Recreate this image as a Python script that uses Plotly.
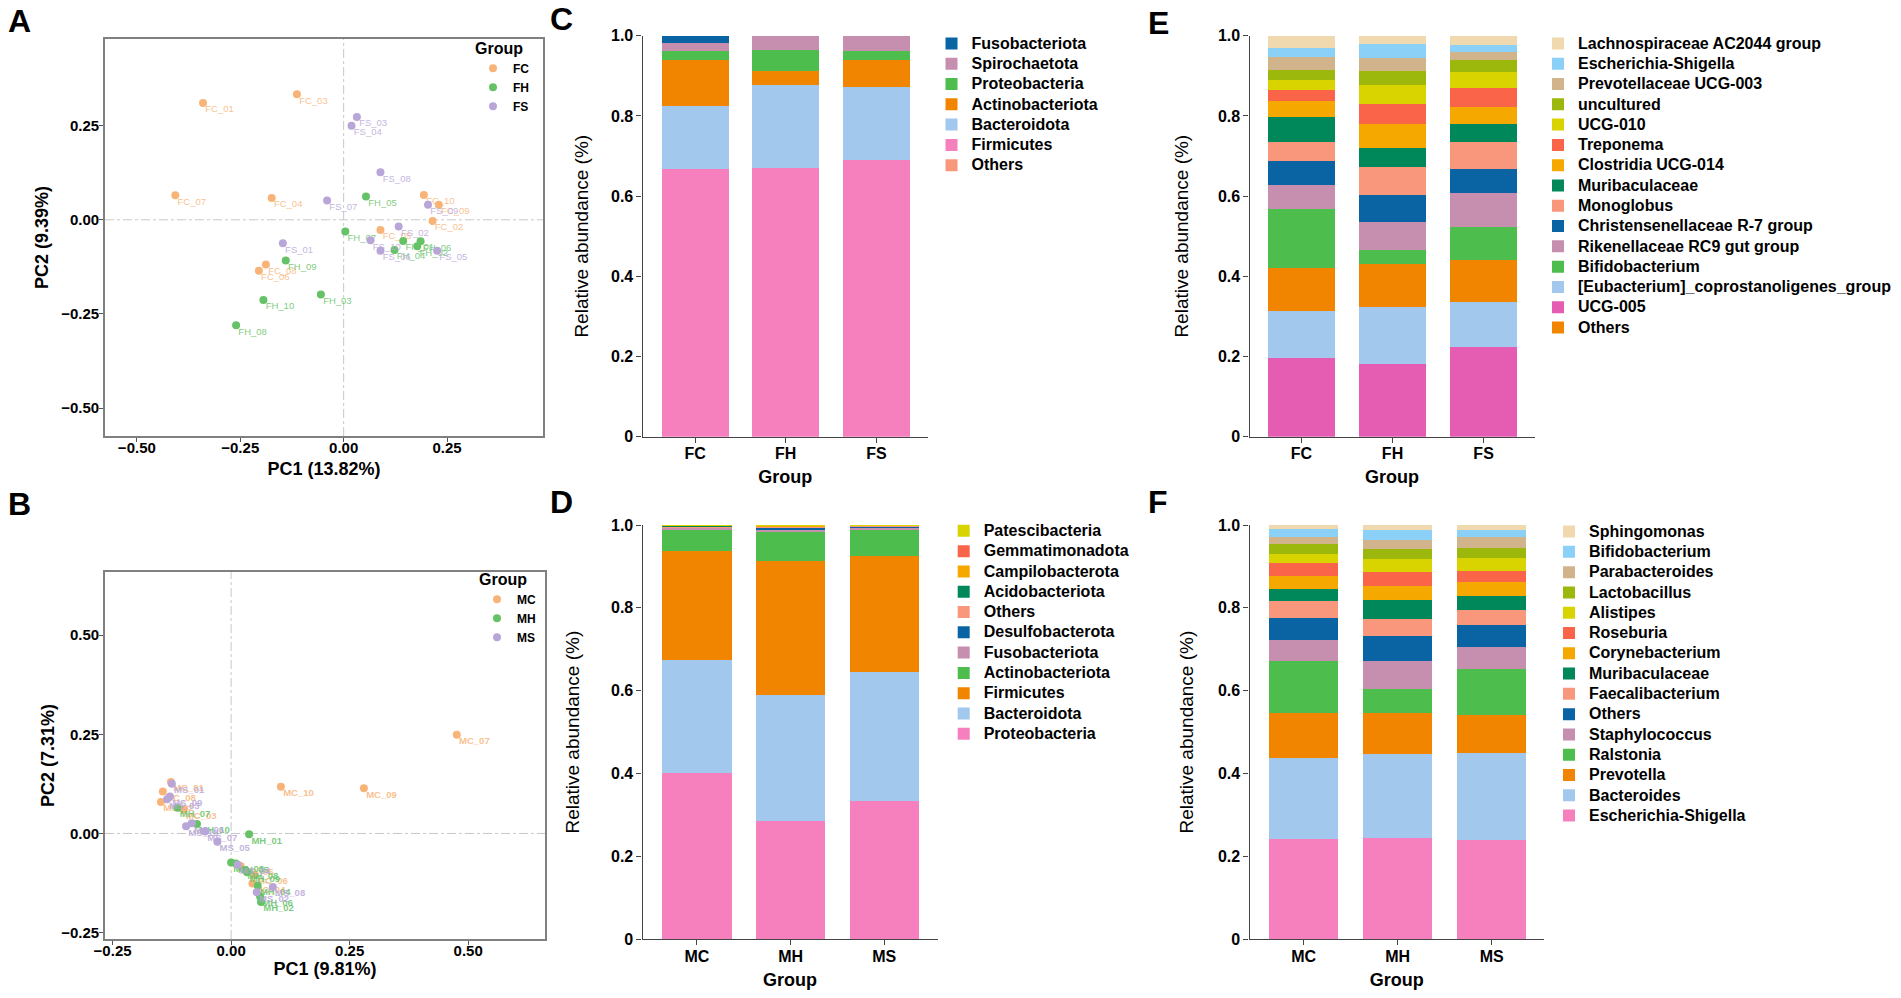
import plotly.graph_objects as go

W, H = 1901, 998
FONT = "Liberation Sans, Arial, sans-serif"

# ---------------- PCoA data (panel A: F groups) ----------------
fc_labels = ["FC_01", "FC_02", "FC_03", "FC_04", "FC_05", "FC_06", "FC_07", "FC_08", "FC_09", "FC_10"]
fc_pc1 = [-0.340, 0.215, -0.113, -0.174, 0.089, -0.205, -0.407, -0.188, 0.230, 0.194]
fc_pc2 = [0.310, -0.003, 0.333, 0.058, -0.027, -0.135, 0.065, -0.119, 0.040, 0.066]

fh_labels = ["FH_01", "FH_02", "FH_03", "FH_04", "FH_05", "FH_06", "FH_07", "FH_08", "FH_09", "FH_10"]
fh_pc1 = [0.144, 0.178, -0.055, 0.123, 0.054, 0.186, 0.004, -0.260, -0.140, -0.194]
fh_pc2 = [-0.056, -0.070, -0.198, -0.080, 0.062, -0.057, -0.031, -0.280, -0.108, -0.213]

fs_labels = ["FS_01", "FS_02", "FS_03", "FS_04", "FS_05", "FS_06", "FS_07", "FS_08", "FS_09", "FS_10"]
fs_pc1 = [-0.147, 0.133, 0.032, 0.019, 0.226, 0.089, -0.040, 0.089, 0.204, 0.065]
fs_pc2 = [-0.062, -0.018, 0.273, 0.250, -0.082, -0.082, 0.051, 0.126, 0.040, -0.054]

# ---------------- PCoA data (panel B: M groups) ----------------
mc_labels = ["MC_01", "MC_02", "MC_03", "MC_04", "MC_05", "MC_06", "MC_07", "MC_08", "MC_09", "MC_10"]
mc_pc1 = [-0.127, -0.148, -0.100, 0.045, 0.020, 0.050, 0.476, -0.144, 0.280, 0.105]
mc_pc2 = [0.130, 0.079, 0.060, -0.126, -0.082, -0.105, 0.249, 0.106, 0.114, 0.118]

mh_labels = ["MH_01", "MH_02", "MH_03", "MH_04", "MH_05", "MH_06", "MH_07", "MH_08", "MH_09", "MH_10"]
mh_pc1 = [0.038, 0.063, 0.000, 0.056, 0.010, 0.061, -0.113, 0.030, 0.034, -0.072]
mh_pc2 = [-0.002, -0.173, -0.073, -0.132, -0.076, -0.159, 0.065, -0.092, -0.098, 0.024]

ms_labels = ["MS_01", "MS_02", "MS_03", "MS_04", "MS_05", "MS_06", "MS_07", "MS_08", "MS_09", "MS_10"]
ms_pc1 = [-0.125, 0.054, -0.135, 0.014, -0.029, -0.083, -0.055, 0.088, -0.129, -0.095]
ms_pc2 = [0.125, -0.148, 0.086, -0.079, -0.021, 0.026, 0.005, -0.135, 0.093, 0.018]

pt_colors = ["#F8B478", "#66C266", "#B8A6D8"]
lab_colors = ["rgba(248,180,120,0.85)", "rgba(102,194,102,0.85)", "rgba(184,166,216,0.85)"]

# ---------------- relative abundance data ----------------
# stacks listed bottom -> top; one row per taxon, one value per group
c_groups = ["FC", "FH", "FS"]
c_taxa = ["Others", "Firmicutes", "Bacteroidota", "Actinobacteriota",
          "Proteobacteria", "Spirochaetota", "Fusobacteriota"]
c_values = [[0.000, 0.000, 0.000],
            [0.667, 0.669, 0.690],
            [0.158, 0.208, 0.182],
            [0.114, 0.036, 0.067],
            [0.024, 0.051, 0.024],
            [0.020, 0.036, 0.037],
            [0.017, 0.000, 0.000]]
c_colors = ["#F8977C", "#F580BD", "#A2C8EE", "#F28500", "#4DBE4D", "#C68FAF", "#0A64A4"]
c_legend = ["Fusobacteriota", "Spirochaetota", "Proteobacteria", "Actinobacteriota",
            "Bacteroidota", "Firmicutes", "Others"]

d_groups = ["MC", "MH", "MS"]
d_taxa = ["Proteobacteria", "Bacteroidota", "Firmicutes", "Actinobacteriota",
          "Fusobacteriota", "Desulfobacterota", "Others", "Acidobacteriota",
          "Campilobacterota", "Gemmatimonadota", "Patescibacteria"]
d_values = [[0.401, 0.286, 0.335],
            [0.272, 0.304, 0.309],
            [0.264, 0.322, 0.280],
            [0.051, 0.071, 0.064],
            [0.005, 0.005, 0.006],
            [0.002, 0.005, 0.002],
            [0.002, 0.003, 0.002],
            [0.001, 0.001, 0.001],
            [0.001, 0.002, 0.0005],
            [0.0005, 0.0005, 0.0002],
            [0.0005, 0.0005, 0.0003]]
d_colors = ["#F580BD", "#A2C8EE", "#F28500", "#4DBE4D", "#C68FAF", "#0A64A4",
            "#F8977C", "#00875A", "#F5A800", "#FA6449", "#D9D400"]
d_legend = ["Patescibacteria", "Gemmatimonadota", "Campilobacterota", "Acidobacteriota",
            "Others", "Desulfobacterota", "Fusobacteriota", "Actinobacteriota",
            "Firmicutes", "Bacteroidota", "Proteobacteria"]

e_groups = ["FC", "FH", "FS"]
e_taxa = ["UCG-005", "[Eubacterium]_coprostanoligenes_group", "Others", "Bifidobacterium",
          "Rikenellaceae RC9 gut group", "Christensenellaceae R-7 group", "Monoglobus",
          "Muribaculaceae", "Clostridia UCG-014", "Treponema", "UCG-010", "uncultured",
          "Prevotellaceae UCG-003", "Escherichia-Shigella", "Lachnospiraceae AC2044 group"]
e_values = [[0.197, 0.181, 0.223],
            [0.117, 0.143, 0.114],
            [0.107, 0.106, 0.104],
            [0.147, 0.035, 0.081],
            [0.059, 0.071, 0.085],
            [0.061, 0.068, 0.061],
            [0.047, 0.069, 0.068],
            [0.063, 0.047, 0.043],
            [0.040, 0.059, 0.044],
            [0.027, 0.051, 0.047],
            [0.024, 0.048, 0.039],
            [0.026, 0.034, 0.030],
            [0.033, 0.033, 0.021],
            [0.022, 0.035, 0.018],
            [0.030, 0.020, 0.022]]
e_colors = ["#E55CB3", "#A2C8EE", "#F28500", "#4DBE4D", "#C68FAF", "#0A64A4", "#F8977C",
            "#00875A", "#F5A800", "#FA6449", "#D9D400", "#9CB80C", "#D2B48C", "#8BD0F7", "#F0D9AE"]
e_legend = ["Lachnospiraceae AC2044 group", "Escherichia-Shigella", "Prevotellaceae UCG-003",
            "uncultured", "UCG-010", "Treponema", "Clostridia UCG-014", "Muribaculaceae",
            "Monoglobus", "Christensenellaceae R-7 group", "Rikenellaceae RC9 gut group",
            "Bifidobacterium", "[Eubacterium]_coprostanoligenes_group", "UCG-005", "Others"]

f_groups = ["MC", "MH", "MS"]
f_taxa = ["Escherichia-Shigella", "Bacteroides", "Prevotella", "Ralstonia", "Staphylococcus",
          "Others", "Faecalibacterium", "Muribaculaceae", "Corynebacterium", "Roseburia",
          "Alistipes", "Lactobacillus", "Parabacteroides", "Bifidobacterium", "Sphingomonas"]
f_values = [[0.242, 0.244, 0.240],
            [0.196, 0.203, 0.209],
            [0.108, 0.099, 0.092],
            [0.125, 0.057, 0.112],
            [0.051, 0.069, 0.053],
            [0.053, 0.061, 0.052],
            [0.041, 0.040, 0.037],
            [0.030, 0.045, 0.034],
            [0.030, 0.035, 0.033],
            [0.032, 0.034, 0.027],
            [0.023, 0.032, 0.031],
            [0.023, 0.024, 0.025],
            [0.018, 0.022, 0.025],
            [0.018, 0.023, 0.018],
            [0.010, 0.012, 0.012]]
f_colors = ["#F580BD", "#A2C8EE", "#F28500", "#4DBE4D", "#C68FAF", "#0A64A4", "#F8977C",
            "#00875A", "#F5A800", "#FA6449", "#D9D400", "#9CB80C", "#D2B48C", "#8BD0F7", "#F0D9AE"]
f_legend = ["Sphingomonas", "Bifidobacterium", "Parabacteroides", "Lactobacillus", "Alistipes",
            "Roseburia", "Corynebacterium", "Muribaculaceae", "Faecalibacterium", "Others",
            "Staphylococcus", "Ralstonia", "Prevotella", "Bacteroides", "Escherichia-Shigella"]

fig = go.Figure()


def add_pcoa(sets, xa, ya, leg, bold_labels):
    for i, (grp, labels, xs, ys) in enumerate(sets):
        # sample labels: tiny invisible markers give the text a small offset
        fig.add_trace(go.Scatter(
            x=xs, y=ys, mode="markers+text", text=labels, textposition="bottom right",
            marker=dict(size=2, opacity=0),
            textfont=dict(size=9.5, color=lab_colors[i], family=FONT,
                          weight="bold" if bold_labels else "normal"),
            xaxis=xa, yaxis=ya, showlegend=False, hoverinfo="skip"))
        fig.add_trace(go.Scatter(
            x=xs, y=ys, mode="markers", name=grp,
            marker=dict(size=8, color=pt_colors[i]),
            xaxis=xa, yaxis=ya, legend=leg))


def add_bars(groups, taxa, values, colors, legend_order, xa, ya, leg):
    for t, vals, col in zip(taxa, values, colors):
        fig.add_trace(go.Bar(
            x=groups, y=vals, name="<span style='font-size:16px'>" + t + "</span>",
            marker=dict(color=col, line=dict(width=0)), width=0.74,
            xaxis=xa, yaxis=ya, legend=leg, legendrank=legend_order.index(t) + 1))


add_pcoa([("FC", fc_labels, fc_pc1, fc_pc2), ("FH", fh_labels, fh_pc1, fh_pc2),
          ("FS", fs_labels, fs_pc1, fs_pc2)], "x", "y", "legend", False)
add_pcoa([("MC", mc_labels, mc_pc1, mc_pc2), ("MH", mh_labels, mh_pc1, mh_pc2),
          ("MS", ms_labels, ms_pc1, ms_pc2)], "x2", "y2", "legend2", True)
add_bars(c_groups, c_taxa, c_values, c_colors, c_legend, "x3", "y3", "legend3")
add_bars(d_groups, d_taxa, d_values, d_colors, d_legend, "x4", "y4", "legend4")
add_bars(e_groups, e_taxa, e_values, e_colors, e_legend, "x5", "y5", "legend5")
add_bars(f_groups, f_taxa, f_values, f_colors, f_legend, "x6", "y6", "legend6")


def dom_x(a, b):
    return [a / W, b / W]


def dom_y(top, bottom):
    return [1 - bottom / H, 1 - top / H]


bold = dict(family=FONT, size=15, color="black", weight="bold")


def pcoa_axis(domain, rng, title, standoff, anchor, lab_shift):
    return dict(domain=domain, range=rng, anchor=anchor, dtick=0.25, tick0=0, tickformat=".2f",
                showline=True, mirror=True, linecolor="#808080", linewidth=1.6,
                ticks="outside", ticklen=4, tickcolor="#555555", tickwidth=1.2,
                ticklabelstandoff=lab_shift,
                showgrid=False, zeroline=False, tickfont=bold,
                title=dict(text=title, standoff=standoff,
                           font=dict(family=FONT, size=18, color="black", weight="bold")),
                automargin=False)


def bar_xaxis(domain, rng, standoff, anchor):
    return dict(domain=domain, range=rng, anchor=anchor, type="category", showline=True,
                linecolor="#444444", linewidth=1.3, ticks="outside", ticklen=5,
                tickcolor="#444444", showgrid=False, zeroline=False, ticklabelstandoff=-3,
                tickfont=dict(family=FONT, size=16, color="black", weight="bold"),
                title=dict(text="Group", standoff=standoff,
                           font=dict(family=FONT, size=18, color="black", weight="bold")),
                automargin=False)


def bar_yaxis(domain, standoff, anchor):
    return dict(domain=domain, range=[0, 1], anchor=anchor,
                tickvals=[0, 0.2, 0.4, 0.6, 0.8, 1.0],
                ticktext=["0", "0.2", "0.4", "0.6", "0.8", "1.0"], showline=True,
                linecolor="#444444", linewidth=1.3, ticks="outside", ticklen=5,
                tickcolor="#444444", showgrid=False, zeroline=False,
                tickfont=dict(family=FONT, size=16, color="black", weight="bold"),
                title=dict(text="Relative abundance (%)", standoff=standoff,
                           font=dict(family=FONT, size=19, color="black")),
                automargin=False)


def bar_legend(x_px, y_px):
    return dict(x=x_px / W, y=1 - y_px / H, xanchor="left", yanchor="top",
                traceorder="normal", bgcolor="rgba(0,0,0,0)", tracegroupgap=0,
                font=dict(family=FONT, size=13.3, color="black", weight="bold"))


def group_legend(x_px, y_px):
    return dict(x=x_px / W, y=1 - y_px / H, xanchor="left", yanchor="top",
                bgcolor="rgba(0,0,0,0)",
                title=dict(text="Group", font=dict(family=FONT, size=16, color="black", weight="bold")),
                font=dict(family=FONT, size=12, color="black", weight="bold"))


def zero_lines(xr, yr):
    line = dict(color="#c8c8c8", width=1, dash="dashdot")
    return [dict(type="line", xref=xr, yref=yr + " domain", x0=0, x1=0, y0=0, y1=1, line=line, layer="below"),
            dict(type="line", xref=xr + " domain", yref=yr, x0=0, x1=1, y0=0, y1=0, line=line, layer="below")]


letters = [("A", 6, 21), ("B", 6, 504), ("C", 548, 19), ("D", 548, 502), ("E", 1146, 23), ("F", 1146, 502)]

fig.update_layout(
    width=W, height=H, margin=dict(l=0, r=0, t=0, b=0),
    paper_bgcolor="white", plot_bgcolor="white", barmode="stack",
    font=dict(family=FONT, color="black"),
    xaxis=pcoa_axis(dom_x(105, 543), [-0.577, 0.482], "PC1 (13.82%)", 8, "y", -7),
    yaxis=pcoa_axis(dom_y(39, 436), [-0.574, 0.48], "PC2 (9.39%)", 8, "x", -3),
    xaxis2=pcoa_axis(dom_x(105, 545), [-0.266, 0.662], "PC1 (9.81%)", 4, "y2", -7),
    yaxis2=pcoa_axis(dom_y(572, 939), [-0.266, 0.659], "PC2 (7.31%)", 2, "x2", -3),
    xaxis3=bar_xaxis(dom_x(642.6, 928), [-0.58, 2.57], 9, "y3"),
    yaxis3=bar_yaxis(dom_y(35.7, 436.7), 17, "x3"),
    xaxis4=bar_xaxis(dom_x(642.6, 937.6), [-0.58, 2.57], 9, "y4"),
    yaxis4=bar_yaxis(dom_y(525, 939.3), 26, "x4"),
    xaxis5=bar_xaxis(dom_x(1249.5, 1534.6), [-0.57, 2.56], 9, "y5"),
    yaxis5=bar_yaxis(dom_y(35.7, 436.7), 24, "x5"),
    xaxis6=bar_xaxis(dom_x(1249.5, 1544), [-0.576, 2.557], 9, "y6"),
    yaxis6=bar_yaxis(dom_y(525, 939.3), 19, "x6"),
    legend=group_legend(473, 33),
    legend2=group_legend(477, 564),
    legend3=bar_legend(931.5, 28.3),
    legend4=bar_legend(943.7, 515.7),
    legend5=bar_legend(1538, 28.3),
    legend6=bar_legend(1549, 516.4),
    shapes=zero_lines("x", "y") + zero_lines("x2", "y2"),
    annotations=[dict(text=t, x=x / W, y=1 - y / H, xref="paper", yref="paper",
                      xanchor="left", yanchor="middle", showarrow=False,
                      font=dict(family=FONT, size=32, color="black", weight="bold"))
                 for t, x, y in letters],
)

# the page body keeps no default margin, so the figure fills the window exactly
fig.write_html("out.html", config={"displayModeBar": False},
               post_script="document.body.style.margin='0';document.body.style.overflow='hidden';")
